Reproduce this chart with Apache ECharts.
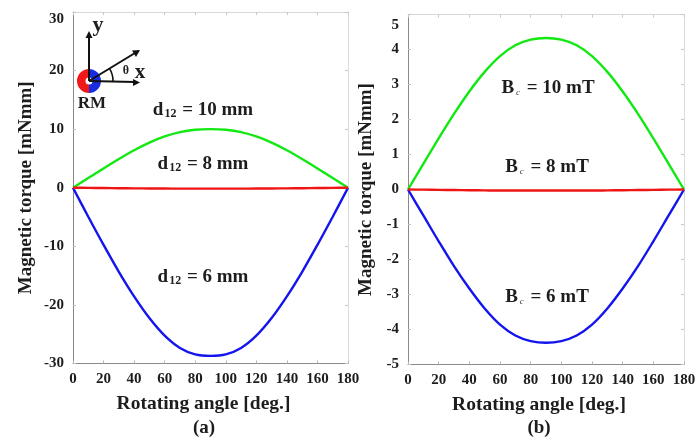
<!DOCTYPE html>
<html><head><meta charset="utf-8">
<style>html,body{margin:0;padding:0;background:#fff}#c{width:699px;height:440px}</style>
<script src="https://cdn.jsdelivr.net/npm/echarts@6/dist/echarts.min.js"></script>
</head><body><div id="c"></div>
<script>
const angles = [0,10,20,30,40,50,60,70,80,90,100,110,120,130,140,150,160,170,180];
const xTicks = [0,20,40,60,80,100,120,140,160,180];
const d12_10 = [0,1.65,3.3,4.9,6.4,7.7,8.75,9.5,9.9,10.0,9.9,9.5,8.75,7.7,6.4,4.9,3.3,1.65,0];
const d12_8  = [0,-0.02,-0.05,-0.08,-0.1,-0.12,-0.14,-0.15,-0.15,-0.15,-0.15,-0.15,-0.14,-0.12,-0.1,-0.08,-0.05,-0.02,0];
const d12_6  = [0,-4.95,-9.75,-14.35,-18.55,-22.25,-25.25,-27.35,-28.45,-28.7,-28.45,-27.35,-25.25,-22.25,-18.55,-14.35,-9.75,-4.95,0];
const bc_10  = [0,0.73,1.46,2.16,2.8,3.36,3.81,4.12,4.28,4.33,4.28,4.12,3.81,3.36,2.8,2.16,1.46,0.73,0];
const bc_8   = [0,-0.005,-0.01,-0.015,-0.02,-0.025,-0.03,-0.03,-0.03,-0.03,-0.03,-0.03,-0.03,-0.025,-0.02,-0.015,-0.01,-0.005,0];
const bc_6   = [0,-0.74,-1.48,-2.19,-2.83,-3.4,-3.86,-4.17,-4.33,-4.38,-4.33,-4.17,-3.86,-3.4,-2.83,-2.19,-1.48,-0.74,0];
const yTitle = 'Magnetic torque [mNmm]';
const xTitle = 'Rotating angle [deg.]';
const panelLabels = ['(a)','(b)'];
const leftNotes = ['{b|d}{s|12}{b| = 10 mm}','{b|d}{s|12}{b| = 8 mm}','{b|d}{s|12}{b| = 6 mm}'];
const rightNotes = ['{b|B}{c|c}{b| = 10 mT}','{b|B}{c|c}{b| = 8 mT}','{b|B}{c|c}{b| = 6 mT}'];

const FONT = '"Liberation Serif","Times New Roman",serif';
const INK = '#1d1d1d';
const zip = a => angles.map((x,i)=>[x,a[i]]);
const chart = echarts.init(document.getElementById('c'), null, {renderer:'canvas'});

function xAxes(gi){
  const common = {type:'value',gridIndex:gi,min:0,max:180,interval:20};
  return [
    {...common,position:'bottom',
      name:xTitle,nameLocation:'middle',nameGap:30,
      nameTextStyle:{fontFamily:FONT,fontWeight:'bold',fontSize:19.5,color:INK,padding:[0,14,0,0]},
      axisLine:{show:true,onZero:false,lineStyle:{color:'#8a8a8a',width:1}},
      axisTick:{show:true,inside:true,length:3,lineStyle:{color:'#b5b5b5'}},
      axisLabel:{margin:8,fontFamily:FONT,fontWeight:'bold',fontSize:15,color:INK,
        customValues:xTicks,hideOverlap:false,showMinLabel:true,showMaxLabel:true},
      splitLine:{show:false}},
    {...common,position:'top',
      axisLine:{show:true,onZero:false,lineStyle:{color:'#d8d8d8',width:1}},
      axisTick:{show:true,inside:true,length:3,lineStyle:{color:'#c8c8c8'}},
      axisLabel:{show:false},splitLine:{show:false}}
  ];
}
function yAxes(gi,min,max,interval,gap,shift){
  const common = {type:'value',gridIndex:gi,min,max,interval};
  return [
    {...common,position:'left',
      name:yTitle,nameLocation:'middle',nameGap:gap,
      nameTextStyle:{fontFamily:FONT,fontWeight:'bold',fontSize:19,color:INK},
      axisLine:{show:true,onZero:false,lineStyle:{color:'#8a8a8a',width:1}},
      axisTick:{show:true,inside:true,length:3,lineStyle:{color:'#c0c0c0'}},
      axisLabel:{margin:9,fontFamily:FONT,fontWeight:'bold',fontSize:15,color:INK,verticalAlignMaxLabel:'top',padding:[shift,0,0,0]},
      splitLine:{show:false}},
    {...common,position:'right',
      axisLine:{show:true,onZero:false,lineStyle:{color:'#dcdcdc',width:1}},
      axisTick:{show:true,inside:true,length:3,lineStyle:{color:'#c8c8c8'}},
      axisLabel:{show:false},splitLine:{show:false}}
  ];
}
function line(data,color,xi,yi){
  return {type:'line',data:zip(data),xAxisIndex:xi,yAxisIndex:yi,smooth:0.33,showSymbol:false,
    lineStyle:{color,width:2.4},silent:true,animation:false,clip:false};
}
const noteRich = {
  b:{fontFamily:FONT,fontWeight:'bold',fontSize:19,fill:INK,color:INK},
  s:{fontFamily:FONT,fontWeight:'bold',fontSize:12,fill:INK,color:INK,verticalAlign:'bottom',padding:[7,1,0,1]},
  c:{fontFamily:FONT,fontStyle:'italic',fontSize:9,fill:'#444',color:'#444',verticalAlign:'bottom',padding:[9,2,0,2]}
};
const note = (t,x,y)=>({type:'text',x,y,z:20,style:{text:t,rich:noteRich,align:'center',verticalAlign:'middle',textAlign:'center',textVerticalAlign:'middle'}});
const plain = (t,x,y,size)=>({type:'text',x,y,z:20,style:{text:t,font:`bold ${size}px ${FONT}`,fill:INK,textAlign:'center',textVerticalAlign:'middle'}});
const seg = (x1,y1,x2,y2)=>({type:'line',z:21,shape:{x1,y1,x2,y2},style:{stroke:'#111',lineWidth:2}});
const head = pts=>({type:'polygon',z:21,shape:{points:pts},style:{fill:'#111'}});
const O=[89,81];
const inset = [
  {type:'sector',z:20,shape:{cx:O[0],cy:O[1],r:12,r0:3.5,startAngle:Math.PI/2,endAngle:Math.PI*1.5},style:{fill:'#f01818'}},
  {type:'sector',z:20,shape:{cx:O[0],cy:O[1],r:12,r0:3.5,startAngle:-Math.PI/2,endAngle:Math.PI/2},style:{fill:'#1a2ce0'}},
  seg(O[0],O[1],89,36), head([[89,31],[85.5,38],[92.5,38]]),
  seg(O[0],O[1],135,82), head([[140,82.5],[133,79],[133,86]]),
  seg(O[0],O[1],135,53), head([[140,50],[132,50.5],[136,57]]),
  {type:'arc',z:21,shape:{cx:O[0],cy:O[1],r:24,startAngle:-0.55,endAngle:0},style:{stroke:'#111',lineWidth:1.6,fill:'none'}},
  plain('y',98,25,22), plain('x',140,73,21), plain('θ',126,71,12), plain('RM',92,104,17)
];
chart.setOption({
  animation:false,backgroundColor:'#fff',
  grid:[{left:73,right:351,top:12,height:351.5},{left:408,right:15,top:14.5,height:350}],
  xAxis:[...xAxes(0),...xAxes(1)],
  yAxis:[...yAxes(0,-30,30,10,37,0),...yAxes(1,-5,5,1,32,3)],
  series:[
    line(d12_10,'#12e812',0,0),line(d12_6,'#1414ee',0,0),line(d12_8,'#f01414',0,0),
    line(bc_10,'#12e812',2,2),line(bc_6,'#1414ee',2,2),line(bc_8,'#f01414',2,2)
  ],
  graphic:{elements:[
    ...inset,
    note(leftNotes[0],203,110),note(leftNotes[1],203,164),note(leftNotes[2],203,277),
    note(rightNotes[0],548,88),note(rightNotes[1],547,167),note(rightNotes[2],547,297),
    plain(panelLabels[0],204,428,19),plain(panelLabels[1],539,428,19)
  ]}
});
</script></body></html>
